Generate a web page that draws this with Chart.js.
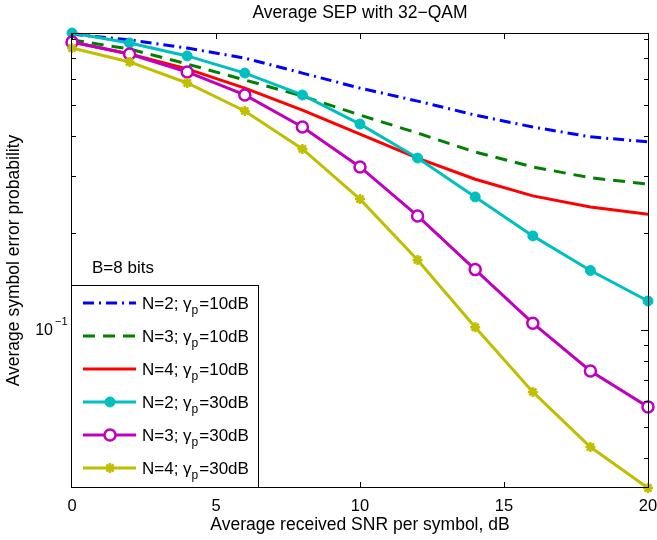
<!DOCTYPE html>
<html>
<head>
    <meta charset="UTF-8" />
    <title>Average SEP with 32-QAM</title>
    <script src="https://cdn.jsdelivr.net/npm/chart.js@4.4.0/dist/chart.umd.min.js"></script>
    <style>
        body { margin: 0; background: #fff; }
        #sep_chart { display: block; }
    </style>
</head>
<body>
<canvas id="sep_chart" width="657" height="540"></canvas>
<script>
// SNR per symbol (dB)
const snr = [0, 2, 4, 6, 8, 10, 12, 14, 16, 18, 20];

// average SEP
const n2_g10 = [0.830, 0.796, 0.751, 0.699, 0.628, 0.564, 0.514, 0.465, 0.427, 0.398, 0.384];
const n3_g10 = [0.796, 0.746, 0.670, 0.598, 0.533, 0.465, 0.409, 0.357, 0.321, 0.297, 0.284];
const n4_g10 = [0.784, 0.720, 0.647, 0.564, 0.482, 0.406, 0.342, 0.294, 0.261, 0.241, 0.229];
const n2_g30 = [0.8365, 0.779, 0.710, 0.628, 0.537, 0.436, 0.342, 0.259, 0.196, 0.153, 0.123];
const n3_g30 = [0.784, 0.720, 0.633, 0.537, 0.427, 0.321, 0.226, 0.154, 0.105, 0.0746, 0.0577];
const n4_g30 = [0.751, 0.680, 0.585, 0.479, 0.365, 0.255, 0.165, 0.102, 0.0642, 0.0433, 0.0323];

const xTicks = [0, 5, 10, 15, 20];
const yMajorTicks = [0.1];
const yMinorTicks = [0.04, 0.05, 0.06, 0.07, 0.08, 0.09, 0.2, 0.3, 0.4, 0.5, 0.6, 0.7, 0.8];

// legend text: "N=.. ; gamma_p = .."
const legendN = ['N=2; ', 'N=3; ', 'N=4; ', 'N=2; ', 'N=3; ', 'N=4; '];
const legendGamma = ['=10dB', '=10dB', '=10dB', '=30dB', '=30dB', '=30dB'];

const FONT = '"Liberation Sans", Arial, Helvetica, sans-serif';

function pts(ys) {
    return snr.map((x, i) => ({ x: x, y: ys[i] }));
}

const datasets = [
    { data: pts(n2_g10), borderColor: '#0000ff', borderDash: [11, 5, 2, 5], pointRadius: 0, order: 6 },
    { data: pts(n3_g10), borderColor: '#008000', borderDash: [12, 8], pointRadius: 0, order: 5 },
    { data: pts(n4_g10), borderColor: '#ff0000', pointRadius: 0, order: 4 },
    { data: pts(n2_g30), borderColor: '#00bfbf', backgroundColor: '#00bfbf', pointStyle: 'circle', pointRadius: 5, pointBorderWidth: 1, order: 3 },
    { data: pts(n3_g30), borderColor: '#bf00bf', backgroundColor: '#ffffff', pointStyle: 'circle', pointRadius: 5.5, pointBorderWidth: 2.5, order: 2 },
    { data: pts(n4_g30), borderColor: '#bfbf00', backgroundColor: '#bfbf00', pointStyle: 'star', pointRadius: 5, pointBorderWidth: 2.5, order: 1 }
];
datasets.forEach(d => {
    d.borderWidth = 3;
    d.tension = 0;
    d.fill = false;
    d.clip = false;
    d.pointBackgroundColor = d.backgroundColor;
    d.pointBorderColor = d.borderColor;
});

const matlabFrame = {
    id: 'matlabFrame',
    afterDatasetsDraw(chart) {
        const { ctx, chartArea: a, scales: { x, y } } = chart;
        ctx.save();
        ctx.strokeStyle = '#000';
        ctx.lineWidth = 1;
        ctx.strokeRect(Math.round(a.left) - 0.5, Math.round(a.top) + 0.5,
                       Math.round(a.right - a.left) + 1, Math.round(a.bottom - a.top) - 1);

        ctx.beginPath();
        xTicks.forEach(v => {
            const px = Math.round(x.getPixelForValue(v)) + 0.5;
            ctx.moveTo(px, a.bottom); ctx.lineTo(px, a.bottom - 6);
            ctx.moveTo(px, a.top); ctx.lineTo(px, a.top + 6);
        });
        yMinorTicks.forEach(v => {
            const py = Math.round(y.getPixelForValue(v)) + 0.5;
            ctx.moveTo(a.left, py); ctx.lineTo(a.left + 4, py);
            ctx.moveTo(a.right, py); ctx.lineTo(a.right - 4, py);
        });
        yMajorTicks.forEach(v => {
            const py = Math.round(y.getPixelForValue(v)) + 0.5;
            ctx.moveTo(a.left, py); ctx.lineTo(a.left + 7, py);
            ctx.moveTo(a.right, py); ctx.lineTo(a.right - 7, py);
        });
        ctx.stroke();

        // y tick label 10^-1
        ctx.fillStyle = '#000';
        yMajorTicks.forEach(v => {
            const py = y.getPixelForValue(v);
            ctx.font = '16px ' + FONT;
            ctx.textAlign = 'right';
            ctx.textBaseline = 'middle';
            ctx.fillText('10', 53, py + 1);
            ctx.font = '11px ' + FONT;
            ctx.textAlign = 'left';
            ctx.fillText('\u22121', 55, py - 8);
        });

        // titles
        const cx = (a.left + a.right) / 2;
        ctx.font = '17.5px ' + FONT;
        ctx.textAlign = 'center';
        ctx.textBaseline = 'middle';
        ctx.fillText('Average SEP with 32\u2212QAM', cx, 13);
        ctx.fillText('Average received SNR per symbol, dB', cx, 525);
        ctx.save();
        ctx.translate(14, (a.top + a.bottom) / 2);
        ctx.rotate(-Math.PI / 2);
        ctx.fillText('Average symbol error probability', 0, 0);
        ctx.restore();
        ctx.restore();
    },
    afterDraw(chart) {
        const { ctx, chartArea: a } = chart;
        const box = { left: a.left, top: 285, right: 259, bottom: a.bottom };
        ctx.save();
        ctx.fillStyle = '#000';
        ctx.font = '17px ' + FONT;
        ctx.textAlign = 'left';
        ctx.textBaseline = 'alphabetic';
        ctx.fillText('B=8 bits', 92, 273);

        ctx.fillStyle = '#fff';
        ctx.fillRect(box.left, box.top, box.right - box.left, box.bottom - box.top);
        ctx.strokeStyle = '#000';
        ctx.lineWidth = 1;
        ctx.strokeRect(Math.round(box.left) - 0.5, box.top + 0.5,
                       box.right - box.left, Math.round(box.bottom - box.top) - 1);

        chart.data.datasets.forEach((d, i) => {
            const ry = box.top + 18 + i * 33;
            ctx.save();
            ctx.strokeStyle = d.borderColor;
            ctx.lineWidth = d.borderWidth;
            ctx.setLineDash(d.borderDash || []);
            ctx.beginPath();
            ctx.moveTo(83, ry);
            ctx.lineTo(136, ry);
            ctx.stroke();
            ctx.setLineDash([]);
            if (d.pointRadius > 0) {
                ctx.fillStyle = d.pointBackgroundColor;
                ctx.strokeStyle = d.pointBorderColor;
                ctx.lineWidth = d.pointBorderWidth;
                Chart.helpers.drawPoint(ctx, {
                    pointStyle: d.pointStyle, radius: d.pointRadius,
                    borderWidth: d.pointBorderWidth, rotation: 0
                }, 110, ry);
            }
            ctx.restore();

            ctx.fillStyle = '#000';
            let tx = 142;
            const base = ry + 6;
            ctx.font = '17px ' + FONT;
            ctx.fillText(legendN[i], tx, base);
            tx += ctx.measureText(legendN[i]).width;
            ctx.fillText('\u03b3', tx, base);
            tx += ctx.measureText('\u03b3').width;
            ctx.font = '12px ' + FONT;
            ctx.fillText('p', tx, base + 5);
            tx += ctx.measureText('p').width + 1;
            ctx.font = '17px ' + FONT;
            ctx.fillText(legendGamma[i], tx, base);
        });
        ctx.restore();
    }
};

new Chart(document.getElementById('sep_chart'), {
    type: 'line',
    data: { datasets: datasets },
    options: {
        responsive: false,
        animation: false,
        devicePixelRatio: 1,
        layout: { padding: { left: 0, right: 9, top: 33, bottom: 0 } },
        plugins: { legend: { display: false }, title: { display: false }, tooltip: { enabled: false } },
        scales: {
            x: {
                type: 'linear',
                min: 0,
                max: 20,
                grid: { display: false, drawTicks: false },
                border: { display: false },
                ticks: { color: '#000', padding: 9, maxRotation: 0, font: { size: 16.5, family: FONT } },
                afterBuildTicks(s) { s.ticks = xTicks.map(v => ({ value: v })); },
                afterFit(s) { s.height = 52; s.paddingLeft = 0; s.paddingRight = 0; }
            },
            y: {
                type: 'logarithmic',
                min: 0.0323,
                max: 0.8365,
                grid: { display: false, drawTicks: false },
                border: { display: false },
                ticks: { display: false },
                afterFit(s) { s.width = 72; s.paddingTop = 0; s.paddingBottom = 0; }
            }
        }
    },
    plugins: [matlabFrame]
});
</script>
</body>
</html>
